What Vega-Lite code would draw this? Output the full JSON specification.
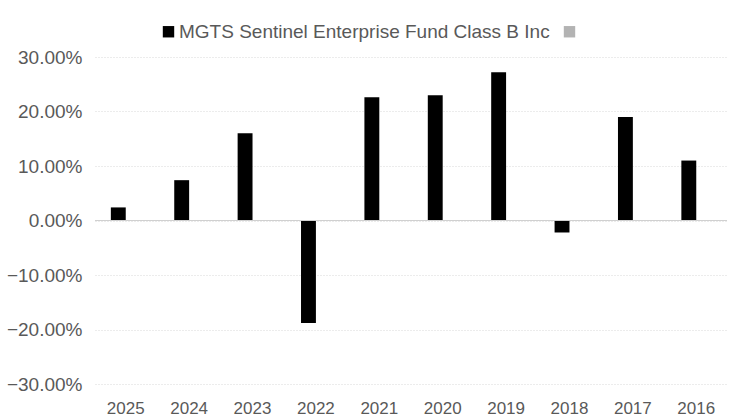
{
  "$schema": "https://vega.github.io/schema/vega-lite/v6.json",
  "width": 632,
  "height": 327,
  "autosize": {"type": "none"},
  "padding": {"left": 95, "top": 57, "right": 3, "bottom": 34},
  "background": "white",
  "config": {
    "view": {"stroke": null},
    "font": "Liberation Sans"
  },
  "data": {
    "values": [
      {"year": "2025", "series": "MGTS Sentinel Enterprise Fund Class B Inc", "value": 0.024},
      {"year": "2024", "series": "MGTS Sentinel Enterprise Fund Class B Inc", "value": 0.074},
      {"year": "2023", "series": "MGTS Sentinel Enterprise Fund Class B Inc", "value": 0.160},
      {"year": "2022", "series": "MGTS Sentinel Enterprise Fund Class B Inc", "value": -0.188},
      {"year": "2021", "series": "MGTS Sentinel Enterprise Fund Class B Inc", "value": 0.226},
      {"year": "2020", "series": "MGTS Sentinel Enterprise Fund Class B Inc", "value": 0.230},
      {"year": "2019", "series": "MGTS Sentinel Enterprise Fund Class B Inc", "value": 0.272},
      {"year": "2018", "series": "MGTS Sentinel Enterprise Fund Class B Inc", "value": -0.022},
      {"year": "2017", "series": "MGTS Sentinel Enterprise Fund Class B Inc", "value": 0.190},
      {"year": "2016", "series": "MGTS Sentinel Enterprise Fund Class B Inc", "value": 0.110}
    ]
  },
  "layer": [
    {
      "mark": {"type": "bar"},
      "encoding": {
        "x": {
          "field": "year", "type": "nominal", "sort": null,
          "scale": {"paddingInner": 0.53, "paddingOuter": 0.25},
          "axis": {"title": null, "domain": false, "ticks": false, "labelAngle": 0, "labelPadding": 16, "grid": false,
                   "labelFont": "Liberation Sans", "labelFontSize": 17, "labelColor": "#595959"}
        },
        "xOffset": {
          "field": "series", "type": "nominal",
          "scale": {"domain": ["MGTS Sentinel Enterprise Fund Class B Inc", " "], "paddingInner": 0, "paddingOuter": 0}
        },
        "y": {
          "field": "value", "type": "quantitative",
          "scale": {"domain": [-0.3, 0.3], "nice": false},
          "axis": {"title": null, "format": ".2%", "values": [-0.3, -0.2, -0.1, 0, 0.1, 0.2, 0.3], "domain": false, "ticks": false, "labelPadding": 13,
                   "labelFont": "Liberation Sans", "labelFontSize": 19, "labelColor": "#595959",
                   "gridColor": "#d9d9d9", "gridDash": [1, 2], "gridWidth": 1}
        },
        "color": {
          "field": "series", "type": "nominal",
          "scale": {"domain": ["MGTS Sentinel Enterprise Fund Class B Inc", " "], "range": ["#000000", "#b3b3b3"]},
          "legend": {
            "title": null, "orient": "none", "direction": "horizontal",
            "legendX": 64, "legendY": -35,
            "symbolType": "square", "symbolSize": 130, "symbolStrokeWidth": 0,
            "labelFontSize": 19, "labelColor": "#595959", "labelFont": "Liberation Sans", "labelLimit": 0,
            "labelOffset": 1, "columnPadding": 10
          }
        }
      }
    },
    {
      "mark": {"type": "rule", "color": "#d0d0d0", "strokeWidth": 1},
      "encoding": {"y": {"datum": 0, "type": "quantitative"}}
    }
  ]
}
